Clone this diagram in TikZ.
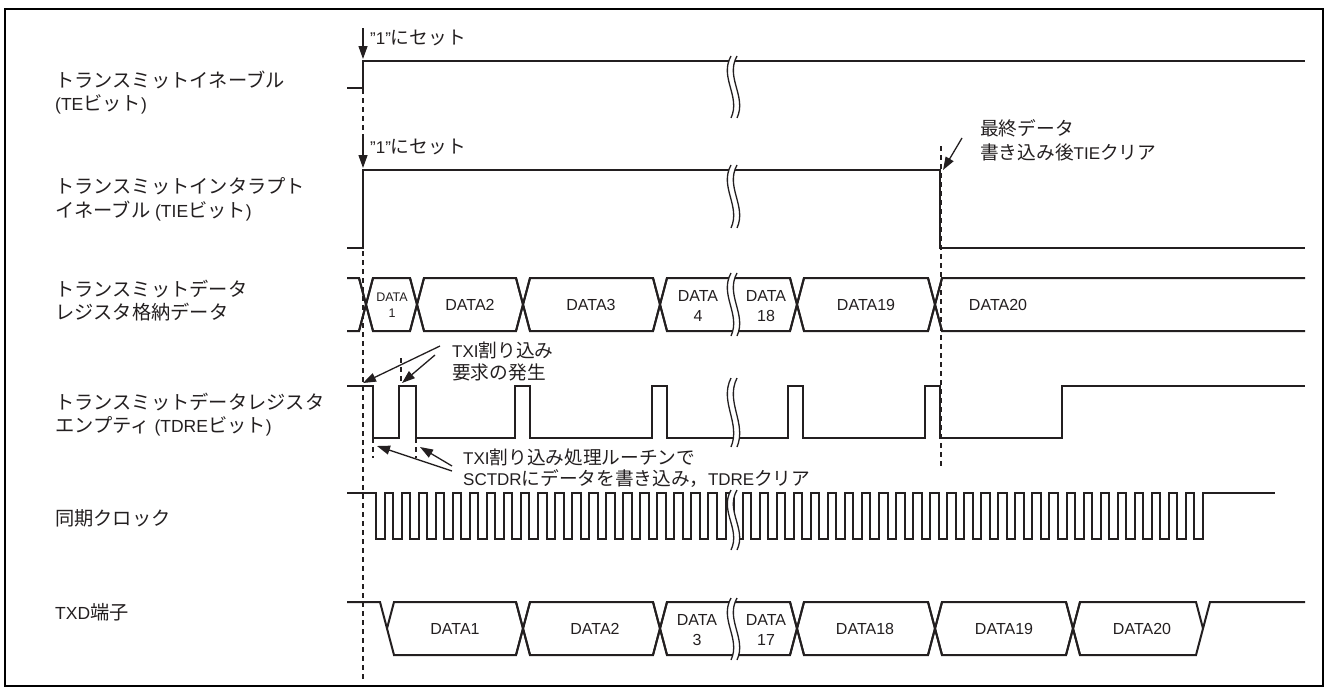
\documentclass[tikz,border=0pt]{standalone}
\usepackage{fontspec}
\setmainfont{Liberation Sans}
\newfontfamily\jp[Scale=1.1]{Noto Sans CJK JP}
\usetikzlibrary{arrows.meta}
\definecolor{ink}{RGB}{35,31,32}
\newcommand\J[1]{{\jp #1}}
% break mark: x, ytop, ybot
\newcommand\sigbrk[3]{%
  \pgfmathsetmacro\bh{#3-#2}%
  \fill[white] ({#1-2},#2) .. controls ({#1-14},{#2+0.35*\bh}) and ({#1+8},{#2+0.65*\bh}) .. ({#1-2},#3)
     -- ({#1+4},#3) .. controls ({#1+14},{#2+0.65*\bh}) and ({#1-8},{#2+0.35*\bh}) .. ({#1+4},#2) -- cycle;
  \draw[brk] ({#1-2},#2) .. controls ({#1-14},{#2+0.35*\bh}) and ({#1+8},{#2+0.65*\bh}) .. ({#1-2},#3);
  \draw[brk] ({#1+4},#2) .. controls ({#1-8},{#2+0.35*\bh}) and ({#1+14},{#2+0.65*\bh}) .. ({#1+4},#3);
}
% bus segment between crossings a and b, top T bottom B
\newcommand\busseg[4]{%
  \draw[sig] ({#1-7},#4) -- ({#1+7},#3) -- ({#2-7},#3) -- ({#2+7},#4);
  \draw[sig] ({#1-7},#3) -- ({#1+7},#4) -- ({#2-7},#4) -- ({#2+7},#3);
}
\begin{document}
\begin{tikzpicture}[x=1pt,y=-1pt,
  sig/.style={draw=ink,line width=2pt,line join=miter},
  dsh/.style={draw=ink,line width=1.1pt,dash pattern=on 5pt off 4pt},
  brk/.style={draw=ink,line width=1.3pt},
  arr/.style={draw=ink,line width=1.3pt,-{Triangle[length=13pt,width=9pt]}},
  lab/.style={anchor=base west,inner sep=0pt,text=ink,font=\fontsize{17.5}{20}\selectfont},
  ann/.style={anchor=base west,inner sep=0pt,text=ink,font=\fontsize{17}{20}\selectfont},
  dl/.style={anchor=base,inner sep=0pt,text=ink,font=\fontsize{16}{19}\selectfont},
  sdl/.style={anchor=base,inner sep=0pt,text=ink,font=\fontsize{12.5}{14}\selectfont}]
\useasboundingbox (0,0) rectangle (1324,688);
\draw[line width=2pt,black] (5,9) rectangle (1322.5,686);

% ---------- left labels ----------
\node[lab] (l1a) at (55,87) {\J{トランスミットイネーブル}};
\node[lab] (l1b) at (55,110) {(TE\J{ビット})};
\node[lab] (l2a) at (55,193) {\J{トランスミットインタラプト}};
\node[lab] (l2b) at (55,217) {\J{イネーブル} (TIE\J{ビット})};
\node[lab] (l3a) at (55,296) {\J{トランスミットデータ}};
\node[lab] (l3b) at (55,319) {\J{レジスタ格納データ}};
\node[lab] (l4a) at (55,409) {\J{トランスミットデータレジスタ}};
\node[lab] (l4b) at (55,432) {\J{エンプティ} (TDRE\J{ビット})};
\node[lab] (l5) at (55,525) {\J{同期クロック}};
\node[lab] (l6) at (55,619) {TXD\J{端子}};

% ---------- dashed guide lines ----------
\draw[dsh] (363,62) -- (363,682);
\draw[dsh] (941,146) -- (941,466);
\draw[dsh] (401,358) -- (401,386);
\draw[dsh] (373,438) -- (373,458);
\draw[dsh] (416,438) -- (416,458);

% ---------- TE ----------
\draw[sig] (347,88) -- (363,88) -- (363,61) -- (1305,61);
\sigbrk{733}{56}{118}
\coordinate (teA) at (363,59);
\draw[arr] (363,28) -- (teA);
\node[ann] (teT) at (370,44) {"1"\J{にセット}};

% ---------- TIE ----------
\draw[sig] (347,248) -- (363,248) -- (363,170) -- (940,170) -- (940,248) -- (1305,248);
\sigbrk{733}{165}{228}
\coordinate (tieA) at (363,168);
\draw[arr] (363,137) -- (tieA);
\node[ann] (tieT) at (370,153) {"1"\J{にセット}};
\coordinate (tieB) at (943,170);
\draw[arr] (962,138) -- (tieB);
\node[ann] (tieC1) at (980,135) {\J{最終データ}};
\node[ann] (tieC2) at (980,159) {\J{書き込み後}TIE\J{クリア}};

% ---------- data register bus ----------
\draw[sig] (347,278) -- (359,278) -- (373,331);
\draw[sig] (347,331) -- (359,331) -- (373,278);
\busseg{366}{417}{278}{331}
\busseg{417}{523}{278}{331}
\busseg{523}{660}{278}{331}
\busseg{660}{797}{278}{331}
\busseg{797}{935}{278}{331}
\draw[sig] (928,331) -- (942,278) -- (1305,278);
\draw[sig] (928,278) -- (942,331) -- (1305,331);
\sigbrk{733}{273}{336}
\node[sdl] (d1a) at (392,301) {DATA};
\node[sdl] (d1b) at (392,317.5) {1};
\node[dl] (d2) at (470,310.5) {DATA2};
\node[dl] (d3) at (591,310.5) {DATA3};
\node[dl] (d4a) at (698,301) {DATA};
\node[dl] (d4b) at (698,321) {4};
\node[dl] (d18a) at (766,301) {DATA};
\node[dl] (d18b) at (766,321) {18};
\node[dl] (d19) at (866,310.5) {DATA19};
\node[dl] (d20) at (998,310.5) {DATA20};

% ---------- TDRE ----------
\draw[sig] (347,386) -- (373,386) -- (373,438) -- (399,438) -- (399,386) -- (416,386) -- (416,438)
  -- (515,438) -- (515,386) -- (530,386) -- (530,438) -- (652,438) -- (652,386) -- (667,386) -- (667,438)
  -- (788,438) -- (788,386) -- (803,386) -- (803,438) -- (925,438) -- (925,386) -- (940,386) -- (940,438)
  -- (1062,438) -- (1062,386) -- (1305,386);
\sigbrk{733}{378}{447}
\node[ann] (txi1) at (452,357) {TXI\J{割り込み}};
\node[ann] (txi2) at (452,379) {\J{要求の発生}};
\coordinate (rq1) at (363,383);
\coordinate (rq2) at (402,383);
\draw[arr] (440,346) -- (rq1);
\draw[arr] (435,355) -- (rq2);
\node[ann] (isr1) at (463,464) {TXI\J{割り込み処理ルーチンで}};
\node[ann] (isr2) at (463,485) {SCTDR\J{にデータを書き込み，}TDRE\J{クリア}};
\coordinate (cl1) at (377,446);
\coordinate (cl2) at (420,447);
\draw[arr] (452,471) -- (cl1);
\draw[arr] (452,466) -- (cl2);

% ---------- clock ----------
\draw[sig] (347,493) \foreach \k in {0,...,48}{ -- ({376+\k*17.05},493) -- ({376+\k*17.05},539)
   -- ({384.525+\k*17.05},539) -- ({384.525+\k*17.05},493)} -- (1275,493);
\sigbrk{733}{490}{550}

% ---------- TXD ----------
\draw[sig] (347,602) -- (380,602) -- (394,655) -- (516,655) -- (530,602);
\draw[sig] (387,628.5) -- (394,602) -- (516,602) -- (530,655);
\busseg{523}{660}{602}{655}
\busseg{660}{797}{602}{655}
\busseg{797}{935}{602}{655}
\busseg{935}{1073}{602}{655}
\draw[sig] (1066,655) -- (1080,602) -- (1196,602) -- (1203,628.5);
\draw[sig] (1066,602) -- (1080,655) -- (1196,655) -- (1210,602) -- (1305,602);
\sigbrk{733}{598}{660}
\node[dl] (x1) at (455,634.5) {DATA1};
\node[dl] (x2) at (595,634.5) {DATA2};
\node[dl] (x3a) at (697,625) {DATA};
\node[dl] (x3b) at (697,645) {3};
\node[dl] (x17a) at (766,625) {DATA};
\node[dl] (x17b) at (766,645) {17};
\node[dl] (x18) at (865,634.5) {DATA18};
\node[dl] (x19) at (1004,634.5) {DATA19};
\node[dl] (x20) at (1142,634.5) {DATA20};
\end{tikzpicture}
\end{document}
